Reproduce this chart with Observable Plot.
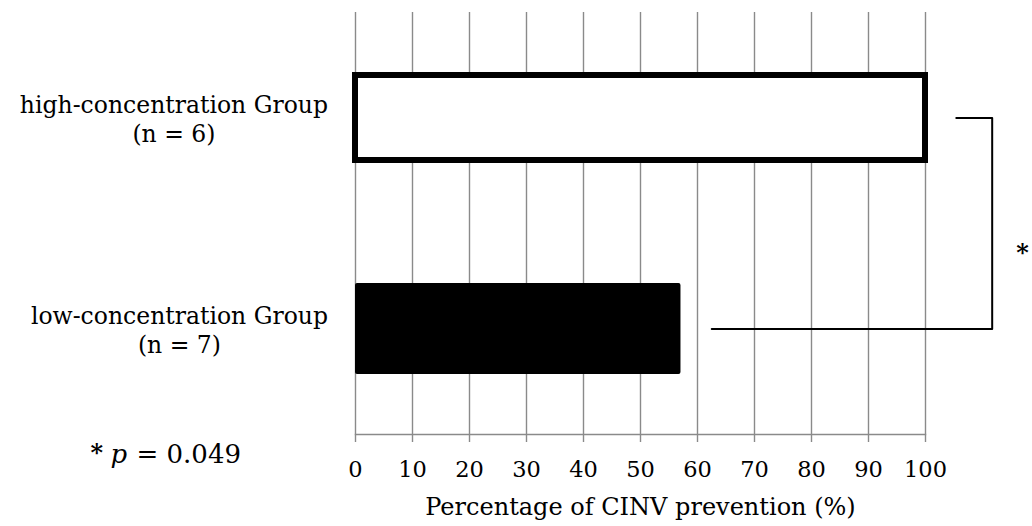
<!DOCTYPE html>
<html><head><meta charset="utf-8">
<script src="https://cdn.jsdelivr.net/npm/d3@7"></script>
<script src="https://cdn.jsdelivr.net/npm/@observablehq/plot@0.6"></script>
<style>body{margin:0;background:#fff}</style>
</head><body><div id="chart"></div>
<script>
const groups = ["high-concentration Group", "low-concentration Group"];
const sizes = ["(n = 6)", "(n = 7)"];
const prevention = [100, 57.1];
const xTicks = [0, 10, 20, 30, 40, 50, 60, 70, 80, 90, 100];
const xLabel = "Percentage of CINV prevention (%)";
const sigMark = "*";
const pParts = ["*", "p", "= 0.049"];

const data = groups.map((g, i) => ({group: g, value: prevention[i]}));
const gap = 5.4, bracketX = 111.7;
const bracket = [
  {x: prevention[0] + gap, y: groups[0]},
  {x: bracketX, y: groups[0]},
  {x: bracketX, y: groups[1]},
  {x: prevention[1] + gap, y: groups[1]}
];
const grey = "#8a8a8a";
const font = '"DejaVu Serif", serif';

const chart = Plot.plot({
  width: 1032, height: 526,
  marginLeft: 355, marginRight: 107, marginTop: 12, marginBottom: 92,
  style: {fontFamily: font, fontSize: "22px", color: "#000", background: "#fff"},
  x: {domain: [0, 100]},
  y: {domain: groups, padding: 0},
  marks: [
    Plot.gridX(xTicks, {stroke: grey, strokeOpacity: 1, strokeWidth: 1.4}),
    Plot.frame({anchor: "bottom", stroke: grey, strokeWidth: 1.4}),
    Plot.axisX(xTicks, {tickSize: 8, tickPadding: 19, stroke: grey, strokeWidth: 1.4, fill: "#000",
      label: xLabel, labelAnchor: "center", labelArrow: "none", labelOffset: 80, fontSize: 22.5}),
    Plot.axisY({tickSize: 0, tickPadding: 182, textAnchor: "middle", lineHeight: 1.25, fontSize: 23.5,
      tickFormat: (d) => d + "\n" + sizes[groups.indexOf(d)], label: null}),
    Plot.barX(data.filter(d => d.group === groups[0]), {x: "value", y: "group", fill: "#fff", stroke: "#000", strokeWidth: 6, insetTop: 63, insetBottom: 63}),
    Plot.barX(data.filter(d => d.group === groups[1]), {x: "value", y: "group", fill: "#000", insetTop: 60, insetBottom: 60, rx: 2}),
    Plot.line(bracket, {x: "x", y: "y", stroke: "#000", strokeWidth: 2}),
    Plot.text([sigMark], {frameAnchor: "right", dx: 97, dy: 30, fontSize: 24, fontWeight: "bold", textAnchor: "middle"}),
    Plot.text([pParts[0]], {frameAnchor: "bottom-left", dx: -265, dy: 26, textAnchor: "start", fontSize: 24, fontWeight: "bold"}),
    Plot.text([pParts[1]], {frameAnchor: "bottom-left", dx: -245, dy: 28, textAnchor: "start", fontSize: 26, fontStyle: "italic"}),
    Plot.text([pParts[2]], {frameAnchor: "bottom-left", dx: -219, dy: 28, textAnchor: "start", fontSize: 26})
  ]
});
document.getElementById("chart").appendChild(chart);

// Label text sizes for axis title
chart.querySelectorAll('g[aria-label="x-axis label"] text').forEach(t => t.setAttribute("font-size", "24"));

// right-align each y label block at a common right edge, lines centered within block
const svgRect = chart.getBoundingClientRect();
chart.querySelectorAll('g[aria-label="y-axis tick label"] text').forEach(t => {
  const r = t.getBoundingClientRect();
  const right = r.right - svgRect.left;
  const shift = 328 - right;
  t.setAttribute("transform", (t.getAttribute("transform") || "") + ` translate(${shift},0)`);
});
</script>
</body></html>
